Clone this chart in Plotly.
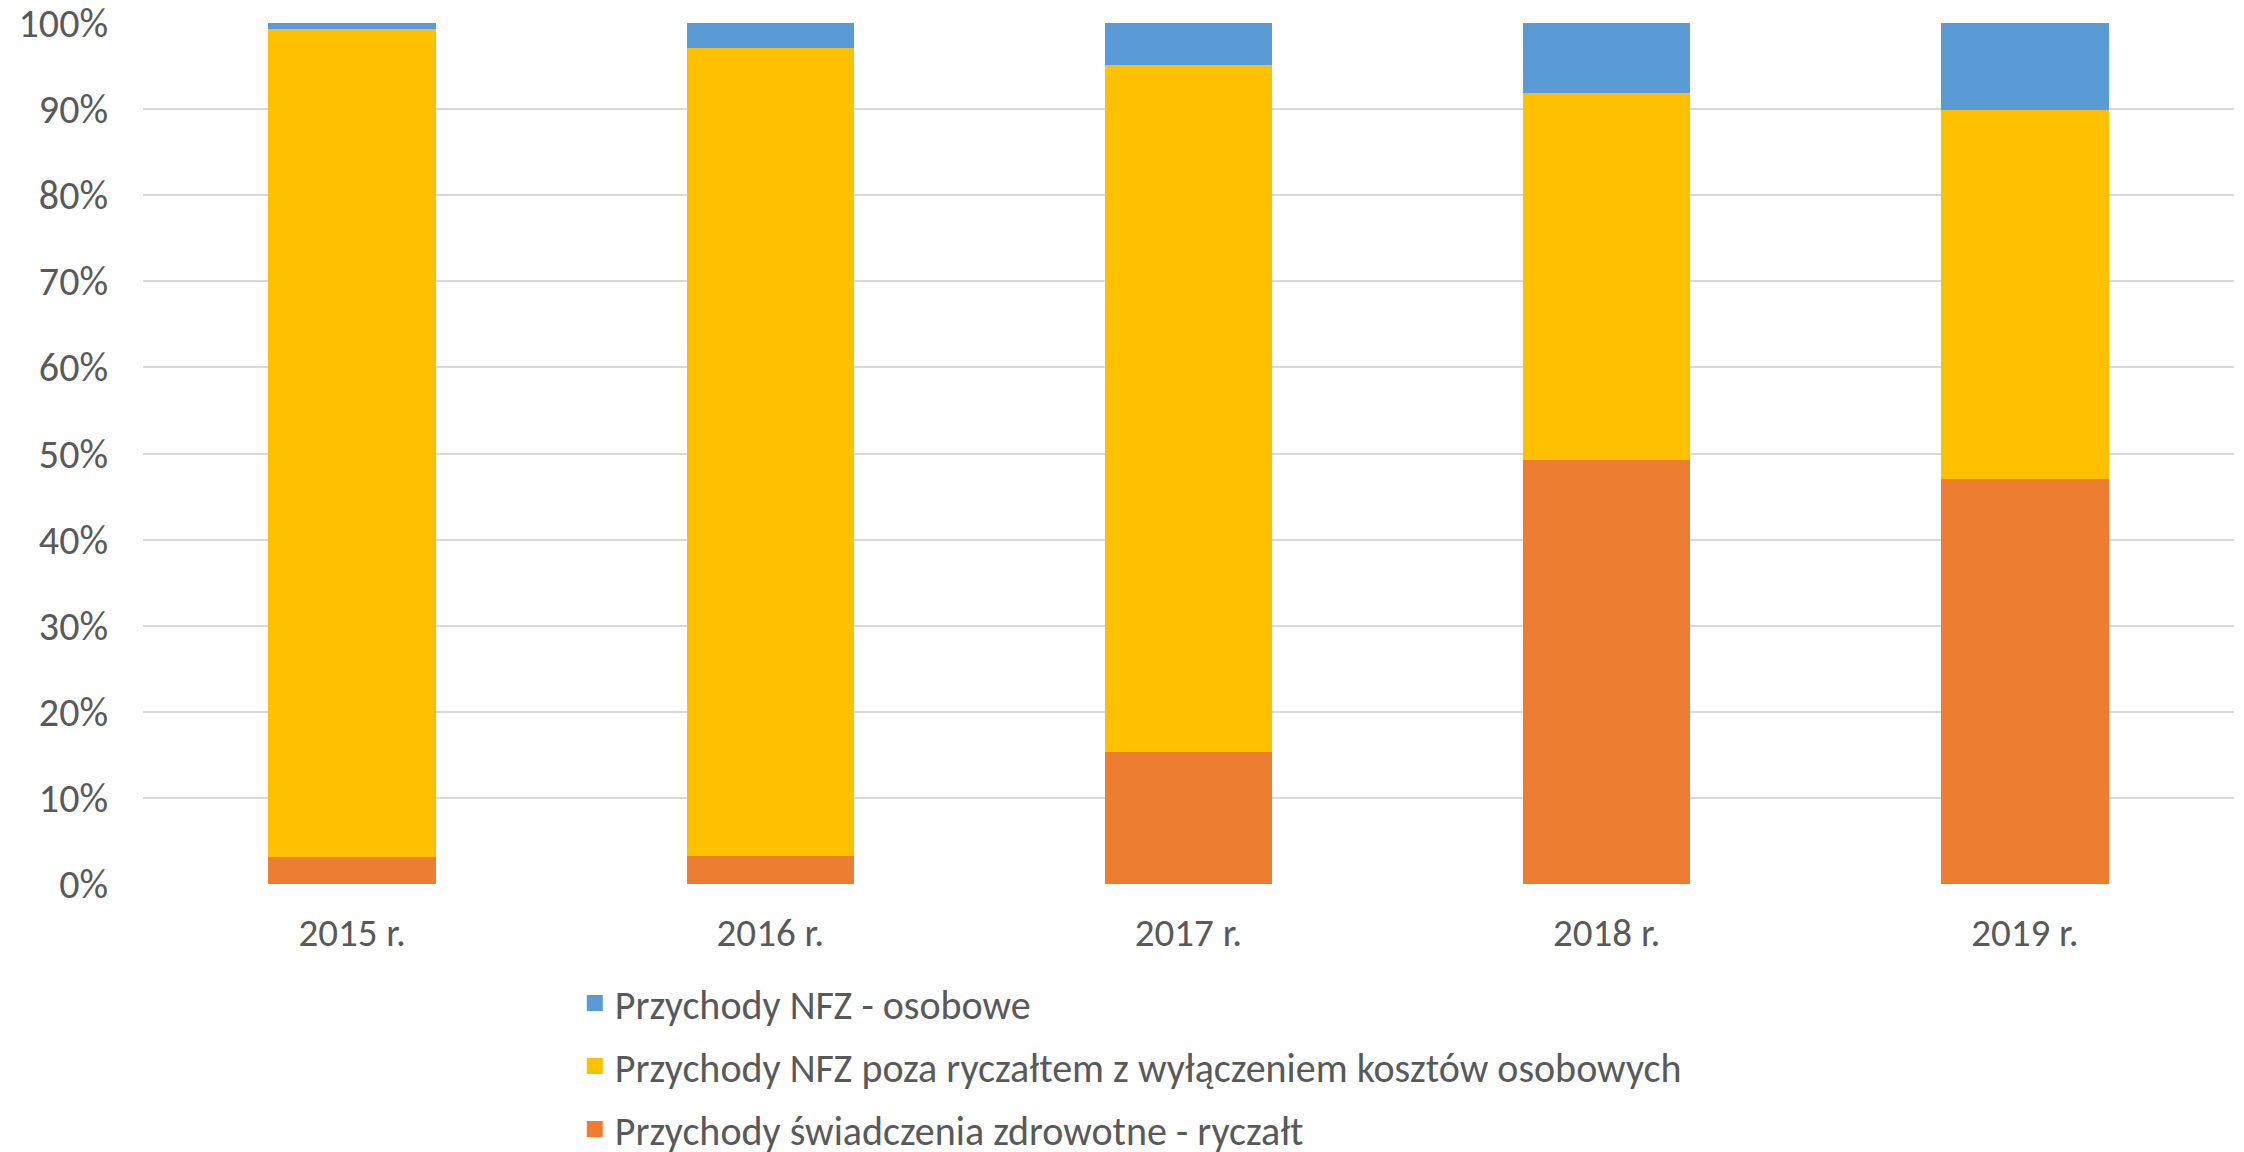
import plotly.graph_objects as go

years = ["2015 r.", "2016 r.", "2017 r.", "2018 r.", "2019 r."]
ryczalt = [3.1, 3.2, 15.3, 49.3, 47.0]
poza_ryczaltem = [96.2, 93.9, 79.8, 42.6, 42.9]
osobowe = [0.7, 2.9, 4.9, 8.1, 10.1]

names = [
    "Przychody świadczenia zdrowotne - ryczałt",
    "Przychody NFZ poza ryczałtem z wyłączeniem kosztów osobowych",
    "Przychody NFZ - osobowe",
]
colors = ["#ED7D31", "#FFC000", "#5B9BD5"]
series = [ryczalt, poza_ryczaltem, osobowe]

FONT = "Carlito, Lato, sans-serif"
GREY = "#595959"

fig = go.Figure()
for name, col, vals in zip(names, colors, series):
    fig.add_trace(go.Bar(
        x=years, y=vals, name=name,
        marker=dict(color=col, line=dict(width=0)),
        showlegend=False, legendgroup=name,
    ))
# legend entries (top to bottom: blue, yellow, orange) with square swatches
for name, col in reversed(list(zip(names, colors))):
    fig.add_trace(go.Scatter(
        x=[None], y=[None], mode="markers", name=name,
        marker=dict(symbol="square", size=22, color=col),
        legendgroup=name, showlegend=True,
    ))

fig.update_layout(
    width=2244, height=1152,
    barmode="stack", bargap=0.6,
    plot_bgcolor="white", paper_bgcolor="white",
    margin=dict(l=143, r=10, t=23, b=268, autoexpand=False),
    font=dict(family=FONT, size=40, color=GREY),
    legend=dict(
        orientation="v", x=0.2065, xanchor="left", y=-0.1005, yanchor="top",
        traceorder="grouped", tracegroupgap=8,
        font=dict(family=FONT, size=40, color=GREY),
        itemsizing="trace", bgcolor="rgba(0,0,0,0)",
    ),
)
fig.update_xaxes(
    showgrid=False, showline=False, zeroline=False, automargin=False,
    tickfont=dict(family=FONT, size=39, color=GREY),
    ticklabelstandoff=22,
)
fig.update_yaxes(
    range=[0, 100], dtick=10, ticksuffix="%", automargin=False,
    showgrid=True, gridcolor="#D9D9D9", gridwidth=2,
    zeroline=False, showline=False, ticklabeloverflow="allow",
    tickfont=dict(family=FONT, size=40, color=GREY),
    ticklabelstandoff=34,
)

fig.write_html(
    "out.html",
    config={"displayModeBar": False},
    post_script="document.body.style.margin='0px';document.body.style.overflow='hidden';",
)
